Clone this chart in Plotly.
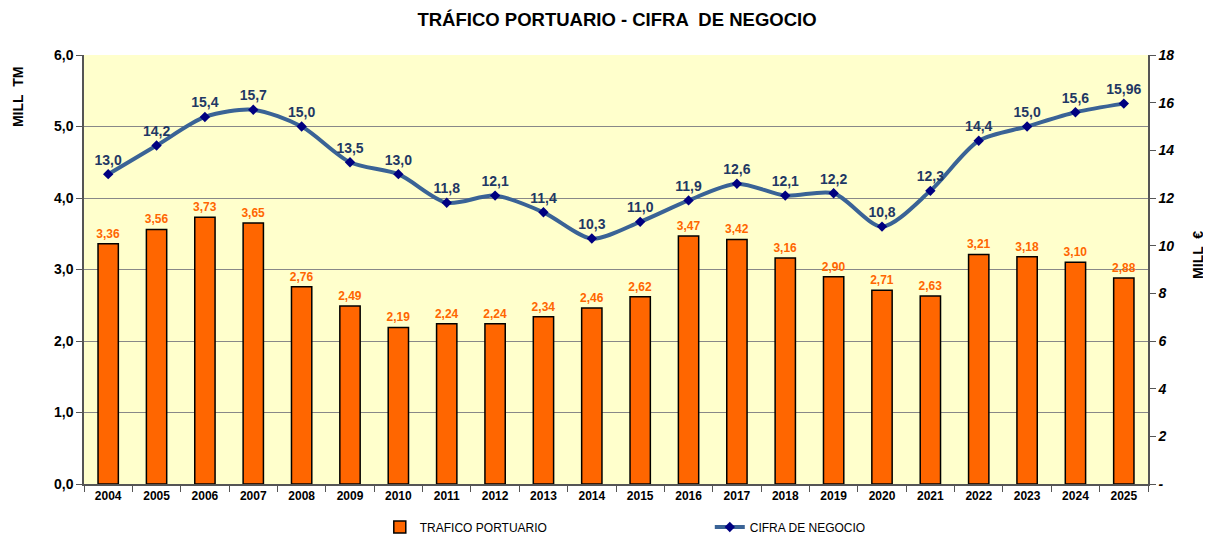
import plotly.graph_objects as go

years = [str(y) for y in range(2004, 2026)]
trafico = [3.36, 3.56, 3.73, 3.65, 2.76, 2.49, 2.19, 2.24, 2.24, 2.34, 2.46,
           2.62, 3.47, 3.42, 3.16, 2.90, 2.71, 2.63, 3.21, 3.18, 3.10, 2.88]
cifra = [13.0, 14.2, 15.4, 15.7, 15.0, 13.5, 13.0, 11.8, 12.1, 11.4, 10.3,
         11.0, 11.9, 12.6, 12.1, 12.2, 10.8, 12.3, 14.4, 15.0, 15.6, 15.96]
left_ticks = [0, 1, 2, 3, 4, 5, 6]
right_ticks = [0, 2, 4, 6, 8, 10, 12, 14, 16, 18]
right_ticktext = ["-", "2", "4", "6", "8", "10", "12", "14", "16", "18"]

def fmt(v):
    s = f"{v:.2f}" if abs(round(v, 1) - v) > 1e-9 else f"{v:.1f}"
    return s.replace(".", ",")

bar_text = [f"<b>{v:.2f}</b>".replace(".", ",") for v in trafico]
line_text = [f"<b>{fmt(v)}</b>" for v in cifra]

FONT = "Liberation Sans, Arial, sans-serif"

# page body has an 8px margin; figure size/margins compensate for it
W, H = 1203, 530

fig = go.Figure()
fig.add_trace(go.Bar(
    x=years, y=trafico, name="TRAFICO PORTUARIO",
    marker=dict(color="#FF6600", line=dict(color="#000000", width=1.5)),
    width=0.42,
    text=bar_text, textposition="outside", constraintext="none",
    textfont=dict(color="#FF6600", size=12, family=FONT),
    cliponaxis=False,
))
fig.add_trace(go.Scatter(
    x=years, y=cifra, name="CIFRA DE NEGOCIO", yaxis="y2",
    mode="lines+markers+text",
    line=dict(color="#3A6396", width=4, shape="spline", smoothing=0.8),
    marker=dict(symbol="diamond", size=8, color="#000080"),
    text=line_text, textposition="top center",
    textfont=dict(color="#1F3864", size=14, family=FONT),
    cliponaxis=False,
))

fig.update_layout(
    width=W, height=H,
    margin=dict(l=76, r=63, t=47, b=54),
    paper_bgcolor="white", plot_bgcolor="#FFFFCC",
    font=dict(family=FONT, color="#000000"),
    title=dict(text="<b>TRÁFICO PORTUARIO - CIFRA  DE NEGOCIO</b>",
               x=609 / W, xanchor="center", xref="container",
               y=1 - 5 / H, yanchor="top", yref="container",
               font=dict(size=18.5, family=FONT, color="#000000")),
    showlegend=True,
    legend=dict(orientation="h", x=0.278, xanchor="left",
                y=1 - 519 / H, yanchor="middle", yref="container",
                entrywidth=285, entrywidthmode="pixels",
                font=dict(size=12, family=FONT, color="#000000"),
                bgcolor="rgba(0,0,0,0)"),
    bargap=0.5,
    xaxis=dict(type="category", range=[-0.5, 21.5], automargin=False,
               showgrid=False, ticks="outside", tickson="boundaries",
               ticklen=6, tickcolor="#555555", showline=True, linecolor="#555555",
               linewidth=1.5, tickvals=years,
               ticktext=[f"<b>{y}</b>" for y in years],
               tickfont=dict(size=12, family=FONT, color="#000000")),
    yaxis=dict(range=[0, 6], tickvals=left_ticks, automargin=False,
               ticktext=[f"<b>{v:.1f}</b>".replace(".", ",") for v in left_ticks],
               showgrid=True, gridcolor="#888888", gridwidth=1,
               showline=True, linecolor="#555555", linewidth=1.5,
               ticks="outside", ticklen=6, tickcolor="#555555",
               tickfont=dict(size=14, family=FONT, color="#000000"),
               zeroline=False),
    yaxis2=dict(range=[0, 18], overlaying="y", side="right", automargin=False,
                tickvals=right_ticks,
                ticktext=[f"<b><i>{t}</i></b>" for t in right_ticktext],
                showgrid=False, showline=True, linecolor="#555555", linewidth=1.5,
                ticks="outside", ticklen=6, tickcolor="#555555",
                tickfont=dict(size=14, family=FONT, color="#000000"),
                zeroline=False),
    annotations=[
        dict(text="<b>MILL  TM</b>", xref="paper", yref="paper", x=0, y=0.902,
             xanchor="center", yanchor="middle",
             xshift=-66, textangle=-90, showarrow=False,
             font=dict(size=14, family=FONT, color="#000000")),
        dict(text="<b>MILL  €</b>", xref="paper", yref="paper", x=1, y=0.534,
             xanchor="center", yanchor="middle",
             xshift=50, textangle=-90, showarrow=False,
             font=dict(size=14, family=FONT, color="#000000")),
    ],
)

fig.write_html("out.html")
